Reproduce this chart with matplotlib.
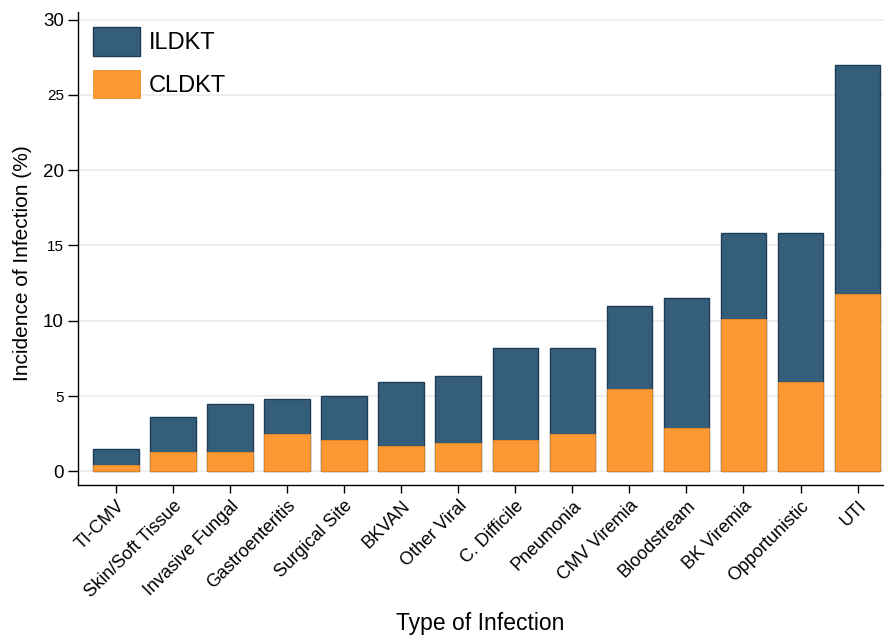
import numpy as np
import matplotlib.pyplot as plt
from matplotlib import rc

rc('font', **{'family': 'sans-serif', 'sans-serif': ['Liberation Sans', 'DejaVu Sans']})

infections = ['TI-CMV', 'Skin/Soft Tissue', 'Invasive Fungal', 'Gastroenteritis',
              'Surgical Site', 'BKVAN', 'Other Viral', 'C. Difficile', 'Pneumonia',
              'CMV Viremia', 'Bloodstream', 'BK Viremia', 'Opportunistic', 'UTI']
ildkt = [1.5, 3.6, 4.5, 4.8, 5.0, 5.9, 6.3, 8.2, 8.2, 11.0, 11.5, 15.8, 15.8, 27.0]
cldkt = [0.4, 1.3, 1.3, 2.5, 2.1, 1.7, 1.9, 2.1, 2.5, 5.5, 2.9, 10.1, 5.9, 11.8]
yticks = [0, 5, 10, 15, 20, 25, 30]

x = np.arange(len(infections))

fig = plt.figure(figsize=(8.85, 6.38), dpi=100)
ax = fig.add_axes([0.088, 0.24, 0.91, 0.741])

# ILDKT bars behind, CLDKT drawn over them from zero
ax.bar(x, ildkt, width=0.8, color='#355e7a', edgecolor='#1d3d57', linewidth=1.0,
       label='ILDKT', zorder=2)
ax.bar(x, cldkt, width=0.8, color='#fd9934', edgecolor='#f08a20', linewidth=0.6,
       label='CLDKT', zorder=3)

ax.set_xlim(-0.67, 13.45)
ax.set_ylim(-0.9, 30.5)
ax.set_yticks(yticks)
ax.set_yticklabels([str(v) for v in yticks])
for v, lab in zip(yticks, ax.get_yticklabels()):
    lab.set_fontsize(13.5 if v % 10 == 0 else 11)
ax.set_xticks(x)
ax.set_xticklabels(infections, rotation=45, ha='right', rotation_mode='anchor', fontsize=13)
ax.tick_params(axis='y', length=7, width=1.0, pad=3)
ax.tick_params(axis='x', length=6, width=1.0, pad=3)

ax.grid(axis='y', color='#ebebeb', linewidth=1.2, zorder=0)
ax.set_axisbelow(True)

for side in ['top', 'right']:
    ax.spines[side].set_visible(False)
ax.spines['left'].set_linewidth(1.0)
ax.spines['bottom'].set_linewidth(1.0)

ax.set_ylabel('Incidence of Infection (%)', fontsize=15)
ax.yaxis.set_label_coords(-0.057, 0.47)
ax.set_xlabel('Type of Infection', fontsize=16.5)
ax.xaxis.set_label_coords(0.5, -0.268)

leg = ax.legend(loc='upper left', frameon=False, fontsize=17, handlelength=2.0,
                handleheight=1.45, handletextpad=0.35, labelspacing=0.6,
                borderaxespad=0.25, bbox_to_anchor=(0.0, 1.0))

plt.savefig('out.png', dpi=100)
